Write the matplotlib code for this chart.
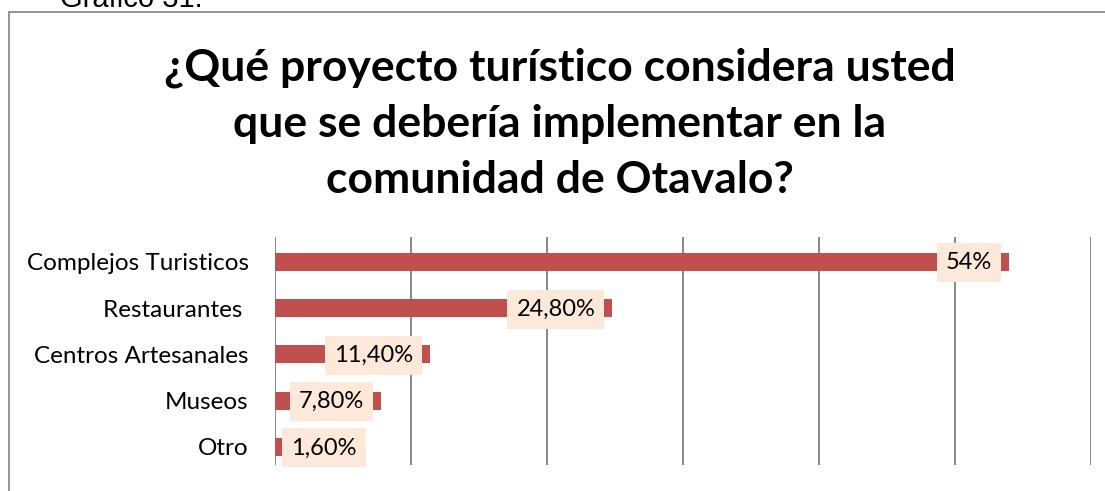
import matplotlib.pyplot as plt
from matplotlib.patches import Rectangle

categories = ['Complejos Turisticos', 'Restaurantes ', 'Centros Artesanales', 'Museos', 'Otro']
values = [0.54, 0.248, 0.114, 0.078, 0.016]
value_labels = ['54%', '24,80%', '11,40%', '7,80%', '1,60%']

title_lines = ['¿Qué proyecto turístico considera usted',
               'que se debería implementar en la',
               'comunidad de Otavalo?']

bar_color = '#C0504D'
box_color = '#FDE9D9'
grid_color = '#868686'

plt.rcParams['font.family'] = ['Lato', 'DejaVu Sans']

W, H = 1105, 491
fig = plt.figure(figsize=(W / 100, H / 100), dpi=100)

# chart frame, running off the right and bottom edges
fig.patches.append(Rectangle((8.5 / W, -0.2), 1.2, 1.2 - 11.5 / H,
                             transform=fig.transFigure, fill=False,
                             edgecolor='#8C8C8C', linewidth=1.3))

# caption cut off at the top of the page
fig.text(60 / W, 1 - 7 / H, 'Gráfico 31.', fontsize=21,
         family='Liberation Sans', ha='left', va='baseline')

# title, one text per line so each baseline sits where it should
for line, base in zip(title_lines, [80, 137, 193]):
    fig.text(560 / W, 1 - base / H, line, fontsize=32, fontweight='bold',
             ha='center', va='baseline')

ax = fig.add_axes([275 / W, 26 / H, 816 / W, 228 / H])
y = list(range(len(categories)))
ax.barh(y, values, height=0.39, color=bar_color, zorder=2)

ax.set_xlim(0, 0.6)
ax.set_ylim(4.39, -0.54)
ax.set_xticks([0, 0.1, 0.2, 0.3, 0.4, 0.5, 0.6])
ax.set_xticklabels([])
ax.tick_params(axis='x', length=0)
ax.xaxis.grid(True, color=grid_color, linewidth=1.4, zorder=0)
ax.set_axisbelow(True)
for s in ax.spines.values():
    s.set_visible(False)

ax.set_yticks(y)
ax.set_yticklabels(categories, fontsize=17.5)
ax.tick_params(axis='y', length=0, pad=19)

# data labels at the inside end of each bar, pushed right when the bar is short
for i, (v, lab) in enumerate(zip(values, value_labels)):
    if v > 0.05:
        x, ha = v - 0.0125, 'right'
    else:
        x, ha = 0.0118, 'left'
    ax.text(x, i + 0.02, lab, fontsize=17, ha=ha, va='center', zorder=3,
            bbox=dict(boxstyle='square,pad=0.38', facecolor=box_color,
                      edgecolor='none'))

fig.savefig('out.png', dpi=100)
